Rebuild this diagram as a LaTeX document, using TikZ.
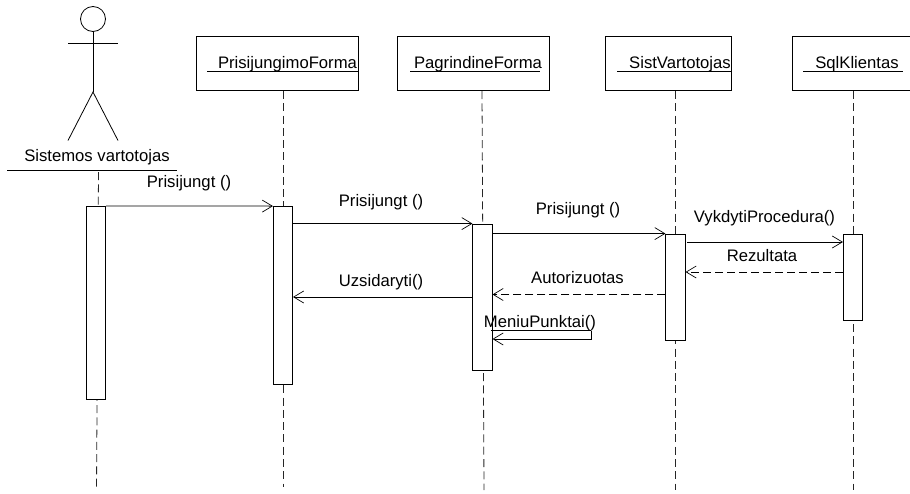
\documentclass[tikz,border=0pt]{standalone}
\usepackage{fontspec}
\setmainfont{Liberation Sans}
\usetikzlibrary{arrows.meta,positioning}
\tikzset{
  objbox/.style={draw,minimum height=40pt,inner sep=0pt,line width=0.6pt},
  objname/.style={inner sep=0pt,font=\fontsize{12.5}{14}\selectfont},
  lifeline/.style={dash pattern=on 6pt off 3.2pt,line width=0.6pt,black!85},
  actbar/.style={draw,fill=white,minimum width=14.5pt,inner sep=0pt,line width=0.6pt},
  msg/.style={-{Straight Barb[length=7.5pt,width=9pt,line width=0.5pt]},line width=0.6pt},
  reply/.style={msg,dash pattern=on 6pt off 3pt},
  msglabel/.style={inner sep=0pt,font=\fontsize{12.5}{14}\selectfont}
}
\begin{document}
\begin{tikzpicture}[x=0.75pt,y=-0.75pt]
\useasboundingbox (0,0) rectangle (910,493);
% actor
\node[draw,circle,minimum size=18.75pt,inner sep=0pt,line width=0.6pt] (head) at (93,19) {};
\coordinate (hip) at (93,92);
\coordinate (armL) at (68,43);
\coordinate (armR) at (118,43);
\coordinate (legL) at (68,140.5);
\coordinate (legR) at (118,140.5);
\draw[line width=0.6pt] (head) -- (hip);
\draw[line width=0.6pt] (armL) -- (armR);
\draw[line width=0.6pt] (legL) -- (hip) -- (legR);
\node[objname] (actor) at (97,157) {Sistemos vartotojas};
\coordinate (ulL) at (7,170);
\coordinate (ulR) at (177,170);
\draw[line width=0.6pt] (ulL) -- (ulR);

% objects
\node[objbox,minimum width=122pt] (forma1) at (277.5,63.5) {};
\node[objbox,minimum width=114pt] (forma2) at (473,63.5) {};
\node[objbox,minimum width=95pt] (vart) at (668.5,63.5) {};
\node[objbox,minimum width=88pt] (sql) at (851.5,63.5) {};
\node[objname] (forma1t) at (287.5,64) {PrisijungimoForma};
\node[objname] (forma2t) at (478,64) {PagrindineForma};
\node[objname] (vartt) at (680,64) {SistVartotojas};
\node[objname] (sqlt) at (857,64) {SqlKlientas};
\foreach \a/\b in {207/359,410/540,617/732,803/903}{
  \draw[line width=0.6pt] (\a,71) -- (\b,71);
}

% lifelines
\coordinate (l0a) at (98.5,172);
\coordinate (l0b) at (96.5,490);
\coordinate (l1a) at (283,91);
\coordinate (l1b) at (283,487);
\coordinate (l2a) at (482,91);
\coordinate (l2b) at (484,490);
\coordinate (l3a) at (675,91);
\coordinate (l3b) at (675,490);
\coordinate (l4a) at (853,91);
\coordinate (l4b) at (853,490);
\foreach \i in {0,...,4}{
  \draw[lifeline] (l\i a) -- (l\i b);
}

% activation bars
\node[actbar,minimum height=145pt] (bar0) at (96,303) {};
\node[actbar,minimum height=133.5pt] (bar1) at (283,295.5) {};
\node[actbar,minimum height=109.5pt] (bar2) at (482.5,297) {};
\node[actbar,minimum height=79.5pt] (bar3) at (675.5,287) {};
\node[actbar,minimum height=65pt] (bar4) at (853,277.5) {};

% messages
\draw[msg] (bar0.north east) -- (bar1.north west);
\draw[msg] (bar1.east |- bar2.north) -- (bar2.north west);
\draw[msg] (bar2.east |- bar3.north) -- (bar3.north west);
\coordinate (vykS) at (687,242);
\draw[msg] (vykS) -- (bar4.west |- vykS);
\coordinate (rezS) at (bar4.west |- 0,272);
\draw[reply] (rezS) -- (bar3.east |- rezS);
\coordinate (autS) at (bar3.west |- 0,294.5);
\draw[reply] (autS) -- (bar2.east |- autS);
\coordinate (uzsS) at (bar2.west |- 0,297);
\draw[msg] (uzsS) -- (bar1.east |- uzsS);
% self call
\coordinate (selfA) at (491,330.5);
\coordinate (selfB) at (591,330.5);
\coordinate (selfC) at (591,339);
\draw[line width=0.6pt] (selfA) -- (selfB);
\draw[msg] (selfB) -- (selfC) -- (bar2.east |- selfC);

% labels
\node[msglabel] (m1) at (189,183) {Prisijungt ()};
\node[msglabel] (m2) at (381,202) {Prisijungt ()};
\node[msglabel] (m3) at (578,210) {Prisijungt ()};
\node[msglabel] (m4) at (764.5,218) {VykdytiProcedura()};
\node[msglabel] (m5) at (762,256) {Rezultata};
\node[msglabel] (m6) at (577.5,278) {Autorizuotas};
\node[msglabel] (m7) at (381,282) {Uzsidaryti()};
\node[msglabel] (m8) at (540,323) {MeniuPunktai()};
\end{tikzpicture}
\end{document}
